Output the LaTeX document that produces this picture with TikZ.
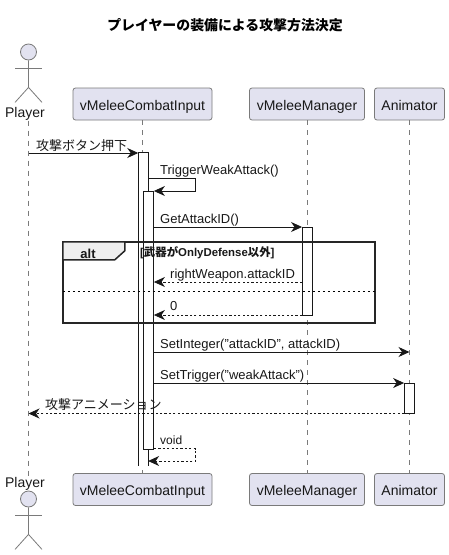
\documentclass[tikz,border=0pt]{standalone}
\usepackage{fontspec}
\setmainfont{Liberation Sans}
\newfontfamily\jpf{Noto Sans CJK JP}
\usetikzlibrary{arrows.meta,calc}
\definecolor{partfill}{HTML}{E2E2F0}
\definecolor{partline}{HTML}{7A7A7A}
\definecolor{ink}{HTML}{181818}
\definecolor{tabfill}{HTML}{EEEEEE}
\newcommand{\jp}[1]{{\jpf #1}}
\tikzset{
  x=1pt,y=-1pt,
  part/.style={draw=partline,fill=partfill,rounded corners=2.5pt,line width=0.8pt,inner sep=0pt,
    minimum height=32pt,text height=12.5pt,text depth=0.5pt,font=\fontsize{14}{16}\selectfont,text=ink},
  lifeline/.style={draw=partline,line width=0.8pt,dash pattern=on 5pt off 5pt},
  actorline/.style={draw=partline,line width=0.8pt},
  actorname/.style={font=\fontsize{14}{16}\selectfont,text=ink,inner sep=0pt,anchor=base},
  head/.style={circle,draw=partline,fill=partfill,line width=0.8pt,minimum size=16pt,inner sep=0pt},
  activation/.style={draw=ink,fill=white,line width=0.8pt,inner sep=0pt,minimum width=10pt},
  tipst/.style={-{Stealth[length=11pt,width=10pt,inset=3.5pt,fill=ink]}},
  msg/.style={tipst,draw=ink,line width=0.9pt},
  ret/.style={tipst,draw=ink,line width=0.8pt,dash pattern=on 2.2pt off 2.2pt},
  label/.style={anchor=base west,inner sep=0pt,font=\fontsize{13}{15}\selectfont,text=ink},
  small/.style={anchor=base west,inner sep=0pt,font=\fontsize{12}{14}\selectfont,text=ink},
  frameline/.style={draw=black!85,line width=1.5pt},
}
\begin{document}
\begin{tikzpicture}
\useasboundingbox (0,0) rectangle (449,555);
% title
\node[inner sep=0pt,font=\fontsize{13.9}{16}\selectfont\bfseries] (title) at (225,25) {\jpf\bfseries プレイヤーの装備による攻撃方法決定};
% participants
\node[part,minimum width=139pt] (cTop) at (142.5,104) {vMeleeCombatInput};
\node[part,minimum width=115pt] (mTop) at (307,104) {vMeleeManager};
\node[part,minimum width=70pt] (aTop) at (409.5,104) {Animator};
\node[part,minimum width=139pt] (cBot) at (142.5,489.5) {vMeleeCombatInput};
\node[part,minimum width=115pt] (mBot) at (307,489.5) {vMeleeManager};
\node[part,minimum width=70pt] (aBot) at (409.5,489.5) {Animator};
\node[actorname] (pTop) at (25,117.5) {Player};
\node[actorname] (pBot) at (25,487.5) {Player};
% lifelines
\draw[lifeline] (pTop.south -| 28.5,0) -- (pBot.north -| 28.5,0);
\draw[lifeline] (cTop.south) -- (cBot.north);
\draw[lifeline] (mTop.south) -- (mBot.north);
\draw[lifeline] (aTop.south) -- (aBot.north);
% actors
\node[head] (h1) at (28.5,52) {};
\draw[actorline] (h1.south) -- ++(0,27) coordinate (hip1) -- ++(-13.5,15);
\draw[actorline] (hip1) -- ++(13.5,15);
\draw[actorline] ($(h1.south)+(-13.5,8)$) -- ++(27,0);
\node[head] (h2) at (28.5,499) {};
\draw[actorline] (h2.south) -- ++(0,27) coordinate (hip2) -- ++(-13.5,15);
\draw[actorline] (hip2) -- ++(13.5,15);
\draw[actorline] ($(h2.south)+(-13.5,8)$) -- ++(27,0);
% rows
\coordinate (r1) at (0,153);
\coordinate (r2) at (0,178);
\coordinate (r3) at (0,191);
\coordinate (r4) at (0,227);
\coordinate (r5) at (0,282);
\coordinate (r6) at (0,315);
\coordinate (r7) at (0,352);
\coordinate (r8) at (0,383);
\coordinate (r9) at (0,413.5);
\coordinate (r10) at (0,448.5);
\coordinate (r11) at (0,461);
\coordinate (pl) at (28.5,0);
\coordinate (loopx) at (195.5,0);
% activations
\node[fill=white,inner sep=0pt,minimum width=9.5pt,minimum height=313pt] (act1) at (143.2,309.5) {};
\draw[ink,line width=0.8pt] (act1.north west) -- (act1.north east) -- (act1.south east);
\draw[ink,line width=0.8pt] (act1.north west) -- (act1.south west);
\node[activation,minimum height=258pt] (act2) at (148.5,320) {};
\node[activation,minimum width=9.5pt,minimum height=88pt] (act3) at (307.2,271) {};
\node[activation,minimum height=30.5pt] (act4) at (409.5,398.25) {};
% alt frame
\node[draw=none,minimum width=312pt,minimum height=81pt,inner sep=0pt] (altf) at (219,282.5) {};
\draw[frameline] (altf.north west) rectangle (altf.south east);
\draw[frameline,fill=tabfill] (altf.north west) -- ++(62,0) -- ++(0,9) -- ++(-10,9) -- ++(-52,0) -- cycle;
\node[inner sep=0pt,font=\fontsize{13}{15}\selectfont\bfseries,text=ink,anchor=base] (altl) at (88,258) {alt};
\node[inner sep=0pt,font=\fontsize{11.4}{13}\selectfont\bfseries,text=ink,anchor=base west] (guard) at (140,256) {[\jpf\bfseries 武器が\rmfamily\bfseries OnlyDefense\jpf\bfseries 以外\rmfamily\bfseries ]};
\draw[black,line width=0.9pt,dash pattern=on 2.5pt off 2.5pt] (altf.west |- 0,291) coordinate (sepl) -- (altf.east |- 0,291) coordinate (sepr);
% messages
\draw[msg] (pl |- r1) -- (act1.west |- r1);
\node[label] (l1) at (36,150) {\jp{攻撃ボタン押下}};
\draw[msg] (act1.east |- r2) -- (loopx |- r2) -- (loopx |- r3) -- (act2.east |- r3);
\node[label] (l2) at (160,174) {TriggerWeakAttack()};
\draw[msg] (act2.east |- r4) -- (act3.west |- r4);
\node[label] (l3) at (160,223) {GetAttackID()};
\draw[ret] (act3.west |- r5) -- (act2.east |- r5);
\node[label] (l4) at (170,278) {rightWeapon.attackID};
\draw[ret] (act3.west |- r6) -- (act2.east |- r6);
\node[label] (l5) at (170,310) {0};
\draw[msg] (act2.east |- r7) -- (aTop.south |- r7);
\node[label] (l6) at (160,348) {SetInteger("attackID", attackID)};
\draw[msg] (act2.east |- r8) -- (act4.west |- r8);
\node[label] (l7) at (160,379) {SetTrigger("weakAttack")};
\draw[ret] (act4.west |- r9) -- (pl |- r9);
\node[label] (l8) at (45,409.5) {\jp{攻撃アニメーション}};
\draw[ret] (act2.east |- r10) -- (loopx |- r10) -- (loopx |- r11) -- (act1.east |- r11);
\node[small] (l9) at (160,444) {void};
\end{tikzpicture}
\end{document}
